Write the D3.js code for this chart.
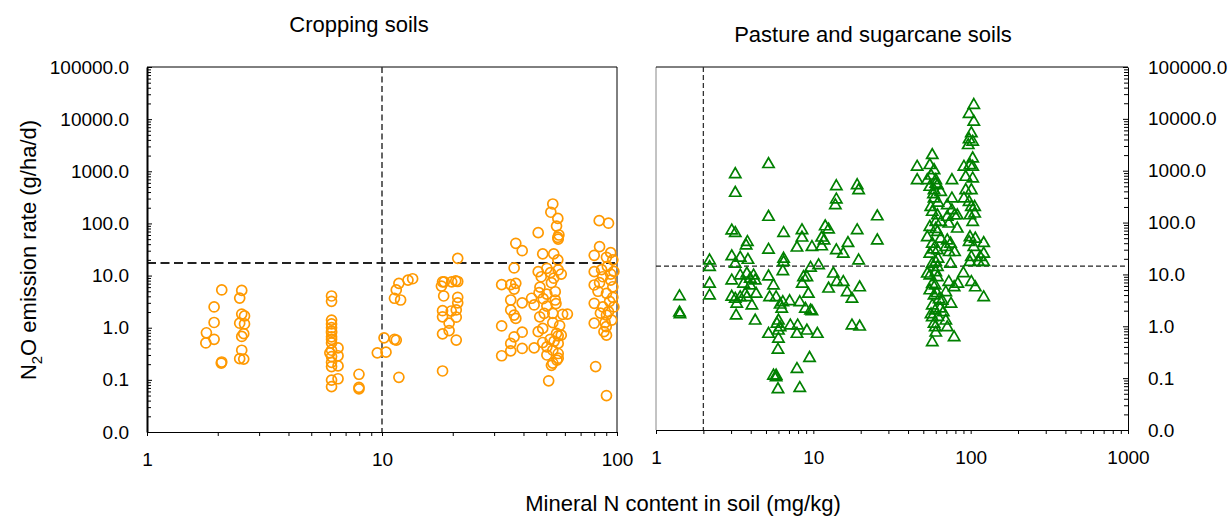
<!DOCTYPE html>
<html>
<head>
<meta charset="utf-8">
<script src="https://cdn.jsdelivr.net/npm/d3@7"></script>
<style>
  body { margin: 0; background: #fff; }
  svg text { font-family: "Liberation Sans", Arial, sans-serif; fill: #000; }
</style>
</head>
<body>
<div id="chart"></div>
<script>
// cropping soils: [mineral N (mg/kg), N2O emission (g/ha/d)]
const cropping = [
    [2.08, 5.3], [1.93, 2.5], [1.93, 1.26], [1.79, 0.80], [1.78, 0.51], [1.93, 0.60], [2.07, 0.21], [2.08, 0.22],
    [2.53, 5.2], [2.48, 3.7], [2.53, 1.83], [2.6, 1.68], [2.48, 1.22], [2.6, 1.18], [2.53, 0.68], [2.58, 0.77],
    [2.53, 0.37], [2.48, 0.255], [2.58, 0.25],
    [6.1, 4.06], [6.1, 3.2], [6.1, 1.4], [6.1, 1.18], [6.1, 1.0], [6.1, 0.86], [6.1, 0.8], [6.1, 0.67], [6.1, 0.6],
    [6.1, 0.51], [6.1, 0.37], [6.0, 0.33], [6.1, 0.28], [6.1, 0.217], [6.1, 0.18], [6.1, 0.099], [6.1, 0.074],
    [6.5, 0.41], [6.5, 0.29], [6.5, 0.185], [6.5, 0.105],
    [7.98, 0.128], [7.98, 0.072], [7.98, 0.067],
    [9.55, 0.33], [10.4, 0.34], [10.2, 0.64], [11.5, 0.58], [11.3, 0.6], [11.8, 0.112], [11.3, 3.67], [12.0, 3.4],
    [11.5, 5.3], [11.8, 7.1], [12.9, 8.2], [13.5, 8.7],
    [21.0, 21.4], [18.1, 7.6], [18.4, 7.6], [19.8, 7.6], [20.6, 7.9], [21.0, 7.7], [17.9, 6.3], [18.3, 4.06],
    [21.0, 3.83], [21.0, 3.0], [20.7, 2.19], [20.7, 1.59], [18.1, 2.12], [18.1, 1.62], [19.7, 2.09], [19.3, 1.22],
    [18.1, 0.76], [19.3, 0.88], [20.7, 0.58], [18.1, 0.148],
    [37.1, 41.6], [39.5, 30], [36.5, 14], [32.3, 6.7], [35.3, 6.7], [37.1, 7.1], [36.5, 5.5], [35.3, 3.4],
    [35.3, 2.19], [36.5, 1.75], [37.1, 1.51], [39.5, 3.0], [32.3, 1.08], [36.5, 0.67], [39.5, 0.82], [35.3, 0.50],
    [35.3, 0.36], [39.5, 0.40], [32.3, 0.29], [43.3, 3.67], [44.4, 2.73], [44.4, 0.41], [46.2, 66.5],
    [53.3, 236], [52.3, 164], [56, 125], [55.3, 89], [56.6, 60], [56.2, 50], [56, 54], [48.3, 26], [53.8, 26],
    [56.0, 20], [46.2, 11.9], [50.3, 13.8], [47.6, 9.5], [52.1, 11.4], [53.8, 8.9], [56.2, 12.8], [57.9, 10.7],
    [52.6, 7.3], [47, 6.0], [46.6, 4.7], [50.3, 4.4], [54.6, 4.9], [54.6, 3.4], [48.5, 3.6], [55, 2.9], [50.3, 2.6],
    [53.3, 1.89], [49.0, 1.89], [46.9, 1.62], [58.7, 1.81], [61.5, 1.83], [53.3, 1.25], [57, 1.1], [48.3, 0.97],
    [46.2, 0.84], [55.3, 0.78], [57.9, 0.72], [56.2, 0.70], [52, 0.6], [54, 0.55], [48.3, 0.52], [56.2, 0.50],
    [50.3, 0.43], [53.3, 0.37], [56.2, 0.32], [50.3, 0.30], [56.2, 0.26], [55.5, 0.24], [53.3, 0.21], [52.6, 0.19],
    [51.2, 0.096],
    [84, 113], [92, 101], [84.3, 35.8], [80, 24.5], [94, 27.5], [96, 20], [90.2, 22.4], [91, 15], [86, 13],
    [97, 12], [80, 11.9], [94, 10.7], [87, 9.5], [94, 8.2], [84.3, 7.3], [80, 6.6], [96, 6.1], [83, 5],
    [90.2, 4.57], [96, 3.83], [93, 3.2], [80, 2.94], [87, 2.51], [97, 2.5], [92, 2.03], [85, 1.9], [90.2, 1.75],
    [95, 1.4], [89, 1.25], [80, 1.22], [90, 1.05], [88, 0.84], [90.2, 0.72], [81.1, 0.18], [90.2, 0.050]
];

// pasture and sugarcane soils
const pasture = [
    [1.41, 3.78], [1.41, 1.83], [1.42, 1.7],
    [2.19, 18.5], [2.19, 13.8], [2.19, 6.6], [2.19, 3.9],
    [3.19, 853], [3.19, 372], [5.19, 1333], [5.19, 128],
    [3.03, 70], [3.19, 62.5], [3.81, 41.9], [3.74, 36], [5.19, 29.8],
    [3.03, 22.2], [3.43, 20.9], [3.84, 19], [3.19, 16],
    [6.47, 62.5], [6.47, 20], [6.47, 17.2], [6.4, 11.5],
    [8.47, 70.5], [8.47, 51], [7.87, 32.7], [9.8, 33.5],
    [11.9, 84], [12.5, 73], [11.3, 51], [11.7, 45], [11.3, 34.6],
    [14, 500], [14, 277], [13.8, 215], [19, 523], [19.4, 419],
    [25.5, 131], [25.5, 45], [19, 70.5], [16.6, 40], [14, 29], [15.5, 25], [19.4, 18.5],
    [10.8, 14.9], [9.6, 13.4],
    [13.4, 10.3], [14.1, 7.1], [15.5, 7.1], [12.5, 5.3], [16.4, 4.5], [17.6, 3.37], [19.7, 5.6],
    [8.66, 8.8], [9.1, 8.8], [8.5, 6.6], [9.3, 4.2], [9.6, 2.0], [9.8, 1.94], [8.2, 2.9], [8.9, 2.16],
    [17.6, 1.03], [19.7, 0.98],
    [9.46, 0.244], [7.87, 0.149], [8.2, 0.064],
    [5.19, 9.1], [5.58, 6.1], [5.27, 3.6], [5.8, 3.6], [6.15, 2.6], [6.3, 2.16], [6.4, 2.9], [6.0, 1.28],
    [5.87, 1.11], [6.15, 0.95], [6.0, 0.82], [5.19, 0.71], [6.0, 0.57], [5.96, 0.35], [7.07, 3.03], [7.14, 1.03],
    [7.87, 0.71], [7.95, 1.03], [9.1, 0.82], [10.6, 0.71], [5.58, 0.111], [5.8, 0.103], [5.96, 0.061], [5.8, 0.111],
    [3.03, 7.6], [3.43, 9.5], [3.78, 10.3], [3.97, 8.2], [4.17, 9.5], [4.27, 7.6], [3.6, 6.6], [3.97, 6.1],
    [3.03, 3.7], [3.19, 3.37], [3.43, 3.6], [3.78, 3.6], [3.26, 2.7], [3.69, 4.2], [4.07, 2.5], [3.23, 1.6],
    [4.27, 1.28], [4.33, 4.2],
    [104.7, 18450], [97.7, 12350], [104.7, 8770], [101, 5230], [97.7, 4000], [103, 3600], [96.5, 3100],
    [103, 1718], [99, 1274], [90.6, 1183], [103, 1183], [93, 757], [103, 705],
    [93, 419], [101, 419], [90.6, 289], [97.7, 249], [101, 199], [106, 199], [99, 137], [106, 148], [103, 102],
    [99, 52], [107, 48.7], [121, 40], [97.7, 42], [104.7, 33.5], [121, 25], [101, 21.5], [115, 21.5],
    [99, 17.2], [112, 17.2], [121, 17.2], [101, 7.1], [107, 5.6], [121, 3.6], [89.9, 10.5], [82.8, 6.6],
    [57, 1990], [55, 1274], [58.5, 1019], [45.7, 1183], [56, 800], [45.7, 654], [53, 654], [60, 654], [60, 560],
    [55, 485], [61.5, 523], [58.5, 419], [64.5, 388], [76, 654], [58, 350],
    [76, 289], [55.8, 199], [71, 215], [58.5, 289], [62, 240], [57, 160], [61.5, 137], [76, 172], [71, 128],
    [79, 137], [82.2, 137],
    [60, 102], [55, 82], [64.5, 102], [72.6, 95], [82.2, 76], [61.5, 65.5], [60, 75],
    [53, 52], [57, 39], [64.5, 48.7], [71, 45], [69.5, 33.5], [74.5, 39], [79, 26.8], [73, 26.8], [55, 25],
    [61.5, 29], [58, 30], [62, 20],
    [60, 17.2], [57, 16], [61.5, 13.8], [74.5, 16], [53, 10.3], [55, 9.5], [60, 11], [61.5, 8.8],
    [55, 4.9], [59.5, 6.1], [57, 6.5], [72.6, 7.1], [78.5, 5.65], [58.5, 3.9], [61, 4.3], [69.5, 4.5], [63, 3.3],
    [65.9, 3.1], [75, 2.7], [57, 2.5], [64, 2.2], [59.5, 2.0], [67, 1.86], [56, 1.7], [62, 1.5], [57, 1.49],
    [58.5, 1.11], [69.5, 1.28], [59.5, 0.95], [71, 0.95], [60, 0.75], [57, 0.49], [78.5, 0.61]
];

// threshold lines
const cropLimits = { n: 10, emission: 17.4 };
const pastureLimits = { n: 2, emission: 14.5 };

// tick values
const yTicks = [0.01, 0.1, 1, 10, 100, 1000, 10000, 100000];
const cropXTicks = [1, 10, 100];
const pastureXTicks = [1, 10, 100, 1000];

function minorTicks(lo, hi) {
    const out = [];
    for (let d = lo; d < hi; d *= 10) {
        for (let k = 2; k <= 9; k++) out.push(+(k * d).toPrecision(3));
    }
    return out;
}

const svg = d3.select('#chart')
    .append('svg')
    .attr('width', 1229)
    .attr('height', 516);

const yFormat = d3.format('.1f');

// ---------- left panel: cropping soils ----------
const x1 = d3.scaleLog().domain([1, 100]).range([147, 617]);
const y1 = d3.scaleLog().domain([0.01, 100000]).range([432, 67]);

// frame
svg.append('path')
    .attr('d', `M147,67H617V432`)
    .attr('fill', 'none').attr('stroke', '#000').attr('stroke-width', 1);

// dashed thresholds
svg.append('line')
    .attr('x1', x1(cropLimits.n)).attr('x2', x1(cropLimits.n))
    .attr('y1', 67).attr('y2', 432)
    .attr('stroke', '#333').attr('stroke-width', 1.5).attr('stroke-dasharray', '6,3.5');
svg.append('line')
    .attr('x1', 147).attr('x2', 617)
    .attr('y1', y1(cropLimits.emission)).attr('y2', y1(cropLimits.emission))
    .attr('stroke', '#222').attr('stroke-width', 2).attr('stroke-dasharray', '9,4.5');

// y axis (ticks inside)
const leftMinor = svg.append('g')
    .attr('transform', 'translate(147,0)')
    .call(d3.axisLeft(y1).tickValues(minorTicks(0.01, 100000)).tickSize(-4).tickFormat('').tickSizeOuter(0));
leftMinor.select('.domain').remove();
const leftAxis = svg.append('g')
    .attr('transform', 'translate(147,0)')
    .call(d3.axisLeft(y1).tickValues(yTicks).tickSize(-5).tickSizeOuter(0).tickPadding(18).tickFormat(yFormat));
leftAxis.select('.domain').attr('stroke-width', 2);
leftAxis.selectAll('text').style('font-size', '19px');

// x axis
svg.append('g')
    .attr('transform', 'translate(0,432)')
    .call(d3.axisBottom(x1).tickValues(minorTicks(1, 100).concat([100])).tickSize(4).tickFormat('').tickSizeOuter(0));
const bottom1 = svg.append('g')
    .attr('transform', 'translate(0,432)')
    .call(d3.axisBottom(x1).tickValues(cropXTicks).tickSize(4).tickSizeOuter(0).tickPadding(17).tickFormat(d3.format('d')));
bottom1.selectAll('text').style('font-size', '19px');

// points
svg.append('g')
    .selectAll('circle')
    .data(cropping)
    .join('circle')
    .attr('cx', d => x1(d[0]))
    .attr('cy', d => y1(d[1]))
    .attr('r', 5)
    .attr('fill', 'none')
    .attr('stroke', '#FF9900')
    .attr('stroke-width', 1.7);

svg.append('text')
    .attr('x', 359).attr('y', 32)
    .attr('text-anchor', 'middle')
    .style('font-size', '22px')
    .text('Cropping soils');

// ---------- right panel: pasture and sugarcane soils ----------
const x2 = d3.scaleLog().domain([1, 1000]).range([656, 1128]);
const y2 = d3.scaleLog().domain([0.01, 100000]).range([430, 67]);

svg.append('line')
    .attr('x1', 656).attr('x2', 656).attr('y1', 67).attr('y2', 430)
    .attr('stroke', '#888').attr('stroke-width', 1);
svg.append('line')
    .attr('x1', 656).attr('x2', 1128).attr('y1', 67).attr('y2', 67)
    .attr('stroke', '#000').attr('stroke-width', 1);

svg.append('line')
    .attr('x1', x2(pastureLimits.n)).attr('x2', x2(pastureLimits.n))
    .attr('y1', 67).attr('y2', 430)
    .attr('stroke', '#333').attr('stroke-width', 1.3).attr('stroke-dasharray', '5,3');
svg.append('line')
    .attr('x1', 656).attr('x2', 1128)
    .attr('y1', y2(pastureLimits.emission)).attr('y2', y2(pastureLimits.emission))
    .attr('stroke', '#222').attr('stroke-width', 1.3).attr('stroke-dasharray', '5,3');

const rightMinor = svg.append('g')
    .attr('transform', 'translate(1128,0)')
    .call(d3.axisRight(y2).tickValues(minorTicks(0.01, 100000)).tickSize(-4).tickFormat('').tickSizeOuter(0));
rightMinor.select('.domain').remove();
const rightAxis = svg.append('g')
    .attr('transform', 'translate(1128,0)')
    .call(d3.axisRight(y2).tickValues(yTicks).tickSize(-5).tickSizeOuter(0).tickPadding(20).tickFormat(yFormat));
rightAxis.selectAll('text').style('font-size', '19px');

svg.append('g')
    .attr('transform', 'translate(0,430)')
    .call(d3.axisBottom(x2).tickValues(minorTicks(1, 1000).concat([1000])).tickSize(4).tickFormat('').tickSizeOuter(0));
const bottom2 = svg.append('g')
    .attr('transform', 'translate(0,430)')
    .call(d3.axisBottom(x2).tickValues(pastureXTicks).tickSize(4).tickSizeOuter(0).tickPadding(17).tickFormat(d3.format('d')));
bottom2.selectAll('text').style('font-size', '19px');

const triangle = d3.symbol().type(d3.symbolTriangle).size(55);
svg.append('g')
    .selectAll('path')
    .data(pasture)
    .join('path')
    .attr('transform', d => 'translate(' + x2(d[0]) + ',' + y2(d[1]) + ')')
    .attr('d', triangle)
    .attr('fill', 'none')
    .attr('stroke', '#008000')
    .attr('stroke-width', 1.7);

svg.append('text')
    .attr('x', 873).attr('y', 42)
    .attr('text-anchor', 'middle')
    .style('font-size', '22px')
    .text('Pasture and sugarcane soils');

// ---------- shared axis titles ----------
svg.append('text')
    .attr('x', 683).attr('y', 511)
    .attr('text-anchor', 'middle')
    .style('font-size', '22px')
    .text('Mineral N content in soil (mg/kg)');

const yTitle = svg.append('text')
    .attr('transform', 'translate(36,250) rotate(-90)')
    .attr('text-anchor', 'middle')
    .style('font-size', '22px');
yTitle.append('tspan').text('N');
yTitle.append('tspan').attr('dy', 6).style('font-size', '15px').text('2');
yTitle.append('tspan').attr('dy', -6).text('O emission rate (g/ha/d)');
</script>
</body>
</html>
